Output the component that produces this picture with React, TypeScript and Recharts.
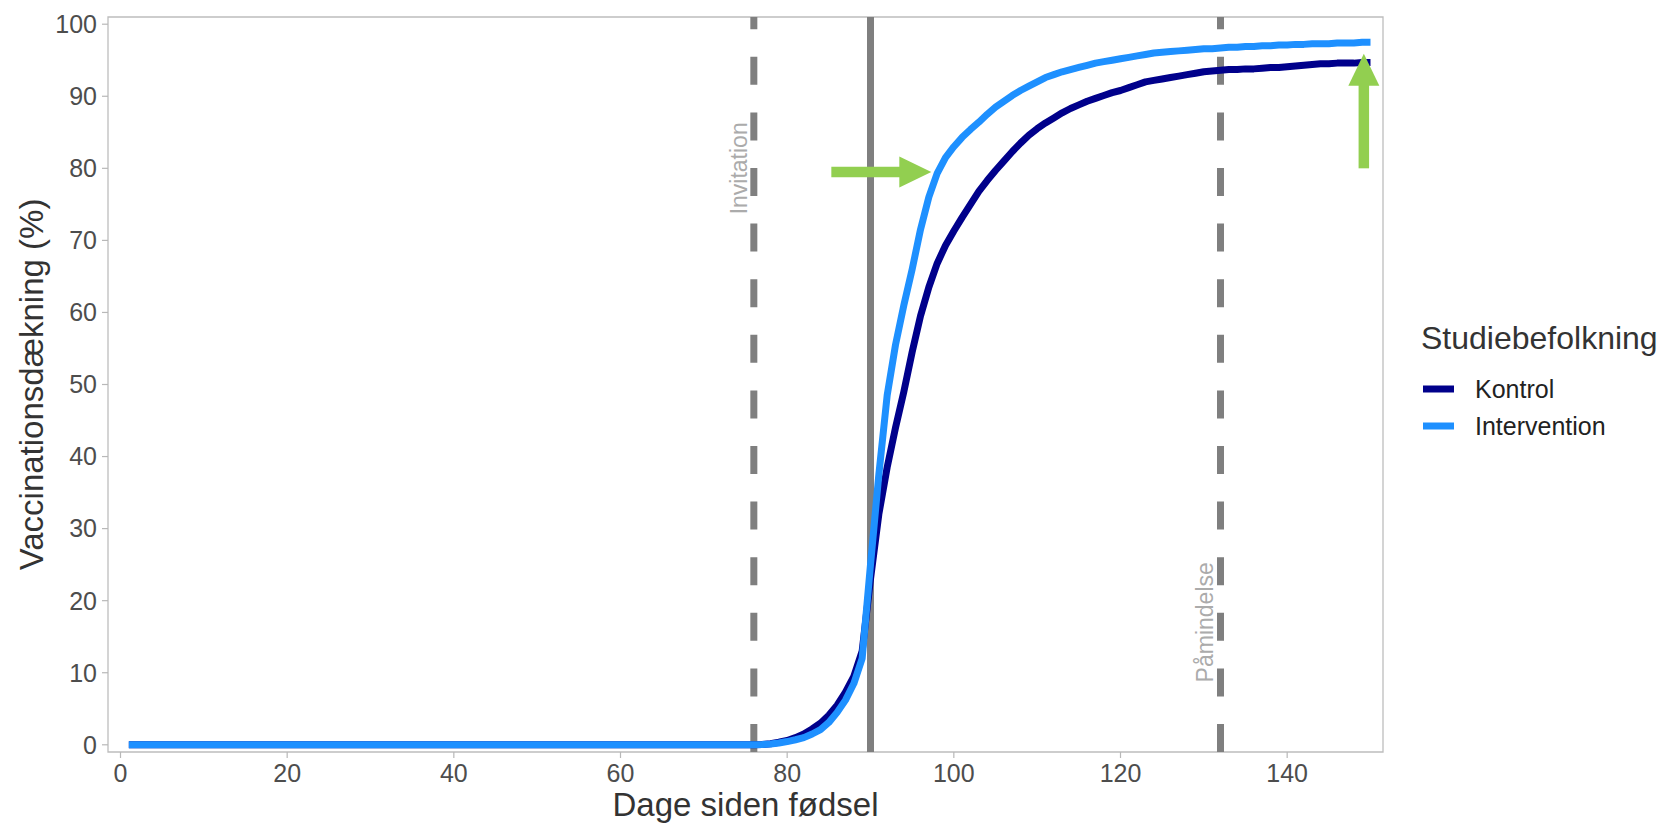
import {
  LineChart, Line, XAxis, YAxis, ReferenceLine, ReferenceArea, ReferenceDot, Legend, Label,
} from 'recharts'

const FONT = "'Liberation Sans', Arial, Helvetica, sans-serif"
const GREEN = '#92CF50'
const NAVY = '#00008B'
const BLUE = '#1E90FF'
const GREY = '#7f7f7f'

// dage siden fødsel (flad 0 fra dag 1 til 76)
const days = [
  1, 76, 77, 78, 79, 80, 81, 82, 83, 84, 85, 86, 87, 88, 89, 90, 91, 92, 93, 94,
  95, 96, 97, 98, 99, 100, 101, 102, 103, 104, 105, 106, 107, 108, 109, 110, 111, 112, 113, 114,
  115, 116, 117, 118, 119, 120, 121, 122, 123, 124, 125, 126, 127, 128, 129, 130, 131, 132, 133, 134,
  135, 136, 137, 138, 139, 140, 141, 142, 143, 144, 145, 146, 147, 148, 149, 150,
]

const kontrol = [
  0, 0, 0.05, 0.15, 0.35, 0.6, 1.0, 1.5, 2.2, 3.0, 4.1, 5.5, 7.3, 9.5, 13, 23, 32, 38.5, 44, 49,
  54.5, 59.5, 63.5, 66.8, 69.3, 71.3, 73.2, 75, 76.8, 78.3, 79.7, 81, 82.3, 83.5, 84.6, 85.5, 86.3, 87, 87.7, 88.3,
  88.8, 89.3, 89.7, 90.1, 90.5, 90.8, 91.2, 91.6, 92, 92.2, 92.4, 92.6, 92.8, 93.0, 93.2, 93.4, 93.5, 93.6, 93.7, 93.7,
  93.8, 93.8, 93.9, 94.0, 94.0, 94.1, 94.2, 94.3, 94.4, 94.5, 94.5, 94.6, 94.6, 94.6, 94.7, 94.7,
]

const intervention = [
  0, 0, 0.03, 0.1, 0.25, 0.45, 0.7, 1.0, 1.5, 2.1, 3.1, 4.5, 6.2, 8.5, 12, 25, 37.5, 48.5, 55.5, 61,
  66, 71.5, 76, 79.3, 81.5, 83, 84.3, 85.4, 86.4, 87.5, 88.5, 89.3, 90.1, 90.8, 91.4, 92, 92.6, 93, 93.4, 93.7,
  94, 94.3, 94.6, 94.8, 95, 95.2, 95.4, 95.6, 95.8, 96, 96.1, 96.2, 96.3, 96.4, 96.5, 96.6, 96.6, 96.7, 96.8, 96.8,
  96.9, 96.9, 97.0, 97.0, 97.1, 97.1, 97.2, 97.2, 97.3, 97.3, 97.3, 97.4, 97.4, 97.4, 97.5, 97.5,
]

const xTicks = [0, 20, 40, 60, 80, 100, 120, 140]
const yTicks = [0, 10, 20, 30, 40, 50, 60, 70, 80, 90, 100]

const dashedDays = [76, 132]
const solidDay = 90

const annotations = [
  { x: 76, y: 80, text: 'Invitation' },
  { x: 132, y: 17, text: 'Påmindelse' },
]

const arrows = [
  { from: { x: 85.3, y: 79.5 }, to: { x: 97.3, y: 79.5 } },
  { from: { x: 149.2, y: 80 }, to: { x: 149.2, y: 95.9 } },
]

const series = [
  { key: 'kontrol', name: 'Kontrol', color: NAVY },
  { key: 'intervention', name: 'Intervention', color: BLUE },
]

const data = days.map((d, i) => ({ day: d, kontrol: kontrol[i], intervention: intervention[i] }))

const ArrowShape = (props: any) => {
  const { x1, y1, x2, y2 } = props
  const dx = x2 - x1
  const dy = y2 - y1
  const len = Math.hypot(dx, dy) || 1
  const ux = dx / len
  const uy = dy / len
  const headLen = 32
  const half = 15.5
  const bx = x2 - ux * headLen
  const by = y2 - uy * headLen
  const px = -uy
  const py = ux
  return (
    <g>
      <line x1={x1} y1={y1} x2={bx + ux} y2={by + uy} stroke={GREEN} strokeWidth={10.5} />
      <polygon
        points={`${x2},${y2} ${bx + px * half},${by + py * half} ${bx - px * half},${by - py * half}`}
        fill={GREEN}
      />
    </g>
  )
}

const renderLegend = () => (
  <svg width={249} height={130} style={{ overflow: 'visible', display: 'block' }}>
    <text x={6} y={31} fontSize={32} fill="#333" fontFamily={FONT}>Studiebefolkning</text>
    {series.map((s, i) => (
      <g key={s.key}>
        <line x1={8} x2={39} y1={71 + i * 37} y2={71 + i * 37} stroke={s.color} strokeWidth={7} />
        <text x={60} y={80 + i * 37} fontSize={25} fill="#222" fontFamily={FONT}>{s.name}</text>
      </g>
    ))}
  </svg>
)

const YTitle = (props: any) => {
  const { viewBox } = props
  const cy = viewBox.y + viewBox.height / 2
  const x = 43
  return (
    <text x={x} y={cy} transform={`rotate(-90 ${x} ${cy})`} textAnchor="middle"
      fontSize={33} fill="#333" fontFamily={FONT}>
      Vaccinationsdækning (%)
    </text>
  )
}

const XTitle = (props: any) => {
  const { viewBox } = props
  const cx = viewBox.x + viewBox.width / 2
  return (
    <text x={cx} y={816} textAnchor="middle" fontSize={33} fill="#333" fontFamily={FONT}>
      Dage siden fødsel
    </text>
  )
}

export default function App() {
  const tickStyle = { fontSize: 25, fill: '#4d4d4d', fontFamily: FONT }
  return (
    <div style={{ position: 'absolute', left: 0, top: 0, width: 1664, height: 824, background: '#fff' }}>
      <LineChart width={1664} height={824} data={data}
        margin={{ top: 17, right: 281, bottom: 0, left: 0 }}>
        <XAxis dataKey="day" type="number" domain={[-1.5, 151.5]} ticks={xTicks}
          height={72} axisLine={false} tickSize={6} tickMargin={6}
          tickLine={{ stroke: '#b8b8b8', strokeWidth: 1.2 }} tick={tickStyle} allowDataOverflow>
          <Label content={<XTitle />} />
        </XAxis>
        <YAxis type="number" domain={[-1, 101]} ticks={yTicks} width={108}
          axisLine={false} tickSize={6} tickMargin={5}
          tickLine={{ stroke: '#b8b8b8', strokeWidth: 1.2 }} tick={tickStyle} allowDataOverflow>
          <Label content={<YTitle />} />
        </YAxis>
        <ReferenceArea x1={-1.5} x2={151.5} y1={-1} y2={101} fill="none" stroke="#bdbdbd" strokeWidth={1.3} ifOverflow="visible" />
        {dashedDays.map((d) => (
          <ReferenceLine key={d} x={d} stroke={GREY} strokeWidth={7} strokeDasharray="28 27.6" />
        ))}
        <ReferenceLine x={solidDay} stroke={GREY} strokeWidth={7} />
        {series.map((s) => (
          <Line key={s.key} dataKey={s.key} name={s.name} type="linear" stroke={s.color}
            strokeWidth={7} dot={false} activeDot={false} isAnimationActive={false}
            strokeLinejoin="round" />
        ))}
        {arrows.map((a, i) => (
          <ReferenceLine key={'arrow' + i} segment={[a.from, a.to]} shape={ArrowShape} ifOverflow="visible" />
        ))}
        {annotations.map((a) => (
          <ReferenceDot key={a.text} x={a.x} y={a.y} r={0} ifOverflow="visible"
            shape={(p: any) => (
              <text x={p.cx - 7} y={p.cy} transform={`rotate(-90 ${p.cx - 7} ${p.cy})`}
                textAnchor="middle" fontSize={23} fill="#ababab" fontFamily={FONT}>
                {a.text}
              </text>
            )} />
        ))}
        <Legend layout="vertical" align="center" verticalAlign="middle"
          wrapperStyle={{ left: 1415, top: 318, width: 249, height: 130 }}
          content={renderLegend} />
      </LineChart>
    </div>
  )
}
